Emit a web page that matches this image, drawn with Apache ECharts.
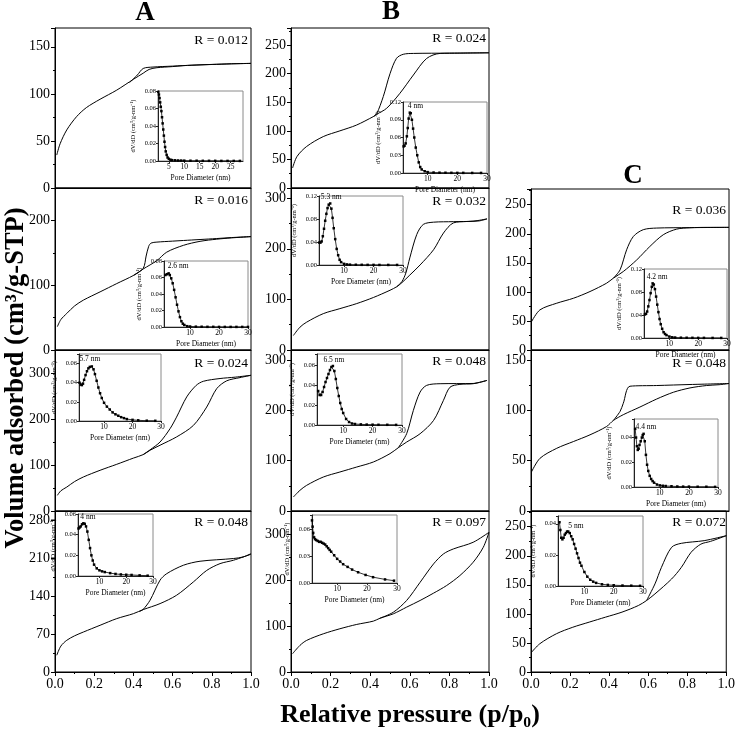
<!DOCTYPE html>
<html><head><meta charset="utf-8">
<script src="https://cdn.jsdelivr.net/npm/echarts@6/dist/echarts.min.js"></script>
<style>html,body{margin:0;padding:0;background:#fff}#c{width:738px;height:732px}</style>
</head><body><div id="c"></div>
<script>
const FONT = "'Liberation Serif', 'Times New Roman', serif";

// ---------- Isotherms: relative pressure (p/p0) and volume adsorbed (cm3/g STP) ----------
const A1_adsP = [0.009,0.026,0.06,0.11,0.16,0.23,0.315,0.40,0.45,0.48,0.52,0.6,0.655,0.74,0.825,0.9,1.0];
const A1_adsV = [35,47,61.7,75.8,85.4,94.3,104,115.5,122,126,127.8,129,130,130.8,131.4,132,132.4];
const A1_desP = [0.38,0.42,0.45,0.5,0.6,0.7,0.8,0.9,1.0];
const A1_desV = [112,120,127,128.5,129.5,130.5,131.3,131.9,132.4];

const A2_adsP = [0.012,0.03,0.06,0.1,0.145,0.23,0.315,0.40,0.45,0.52,0.57,0.655,0.74,0.825,0.9,1.0];
const A2_adsV = [36,47,56.4,68,77,89.7,102.5,115,125,138,151,161.5,167.7,171,173,175];
const A2_desP = [0.40,0.45,0.465,0.478,0.49,0.52,0.6,0.655,0.74,0.825,0.9,1.0];
const A2_desV = [115,126,145,160,165,166.5,168,169,170.5,172,173.5,175];

const A3_adsP = [0.012,0.03,0.06,0.1,0.145,0.23,0.315,0.40,0.45,0.485,0.536,0.62,0.706,0.774,0.825,0.876,0.944,1.0];
const A3_adsV = [34,44,52,64,74,88.5,101.5,115,122.6,132,143,161,186,226,266,283,290,295];
const A3_desP = [0.45,0.485,0.536,0.587,0.62,0.672,0.72,0.757,0.842,0.92,1.0];
const A3_desV = [122.6,133,150,179,204,248,273,282,288,291,295];

const A4_adsP = [0.009,0.03,0.06,0.1,0.145,0.23,0.315,0.40,0.45,0.536,0.62,0.706,0.774,0.842,0.91,1.0];
const A4_adsV = [31,48,58.7,67,74,86.5,98.8,108,115.5,126.6,142,166.7,188,200.6,206.8,218];
const A4_desP = [0.43,0.45,0.485,0.536,0.57,0.655,0.74,0.91,0.96,1.0];
const A4_desV = [112,116,132.8,170,182,197.6,205,210,213,219];

const B1_adsP = [0.008,0.03,0.079,0.163,0.247,0.33,0.416,0.433,0.483,0.55,0.618,0.685,0.753,0.85,1.0];
const B1_adsV = [35,55,72.7,90,100,110,125,129,139.5,165.7,197.7,226.7,235.5,236,236.6];
const B1_desP = [0.416,0.433,0.466,0.5,0.533,0.567,0.618,0.8,1.0];
const B1_desV = [125,130,160,200,227,234,235.5,236,236.6];

const B2_adsP = [0.012,0.045,0.079,0.163,0.247,0.332,0.416,0.5,0.534,0.56,0.6,0.652,0.72,0.77,0.82,0.887,0.95,0.99];
const B2_adsV = [28.6,45,55,71.8,81.7,91.7,103.7,118,125,133,148,168,198,231,251,253.8,255,259];
const B2_desP = [0.534,0.56,0.58,0.6,0.635,0.668,0.72,0.82,0.92,0.99];
const B2_desV = [125,135,152,182,228,248,252.5,253.5,254.5,259];

const B3_adsP = [0.012,0.045,0.079,0.163,0.247,0.332,0.416,0.5,0.542,0.584,0.652,0.72,0.77,0.803,0.853,0.92,0.99];
const B3_adsV = [27.8,41,51,67.5,77.5,87.4,97.4,114,125.8,137,153.6,180,220,246,251.7,253,259.6];
const B3_desP = [0.542,0.584,0.618,0.652,0.685,0.753,0.92,0.99];
const B3_desV = [125.8,153.6,200,236.4,249.7,253,253.5,259.6];

const B4_adsP = [0.008,0.045,0.079,0.163,0.247,0.332,0.416,0.45,0.517,0.584,0.652,0.72,0.786,0.853,0.92,0.971,1.0];
const B4_adsV = [39.8,57.8,68.7,83,94,103.4,110.6,117,126.5,141,155.5,171.4,188,209.7,238.6,271,303.7];
const B4_desP = [0.45,0.517,0.584,0.652,0.72,0.77,0.82,0.92,1.0];
const B4_desV = [117,130,155.5,195,235,256.7,267.5,282,303.7];

const C1_adsP = [0.003,0.045,0.13,0.214,0.298,0.382,0.416,0.466,0.534,0.6,0.668,0.736,0.803,0.9,1.0];
const C1_adsV = [48.9,69,80.5,89,100.6,115,123.6,135,155,178,198.3,208,210.3,211,211];
const C1_desP = [0.416,0.45,0.483,0.517,0.567,0.635,0.8,1.0];
const C1_desV = [123.6,138,172.4,195.4,207,209.8,210.5,211];

const C2_adsP = [0.003,0.045,0.13,0.214,0.298,0.382,0.416,0.466,0.55,0.635,0.719,0.803,0.887,0.95,1.0];
const C2_adsV = [39,52.3,62.3,69,75.7,84,90,95.7,103.3,111.3,118,122.3,124.7,125.5,126.7];
const C2_desP = [0.416,0.45,0.466,0.5,0.635,0.803,1.0];
const C2_desV = [90,99,107,124,124.7,125.7,126.7];

const C3_adsP = [0.003,0.045,0.13,0.214,0.298,0.382,0.466,0.55,0.592,0.635,0.72,0.77,0.82,0.87,0.92,1.0];
const C3_adsV = [34,48.6,65.8,77,85.8,94.4,103,114.4,123,134.4,160,180,206,220,224.8,234.5];
const C3_desP = [0.592,0.635,0.668,0.72,0.77,0.887,1.0];
const C3_desV = [123,151.6,180,214.5,221.4,226,234.5];

// ---------- Pore size distributions: pore diameter (nm) and dV/dD ----------
const A1_poreD = [1.6,1.8,2.0,2.2,2.4,2.6,2.8,3.0,3.2,3.4,3.6,3.8,4.0,4.3,4.6,5.0,5.5,6,7,8,9,10,12,14,16,18,20,22,24,26,28];
const A1_dVdD = [0.079,0.076,0.072,0.067,0.062,0.057,0.050,0.043,0.036,0.029,0.022,0.016,0.011,0.007,0.004,0.0025,0.0015,0.001,0.0008,0.0006,0.0005,0.0004,0.0003,0.0003,0.0002,0.0002,0.0002,0.0001,0.0001,0.0001,0.0001];

const A2_poreD = [1.5,2.0,2.6,3.0,3.5,4.0,4.5,5.0,5.5,6.0,6.5,7.0,7.5,8,9,10,12,14,16,18,20,22,24,26,28,30];
const A2_dVdD = [0.063,0.064,0.065,0.063,0.059,0.053,0.045,0.036,0.027,0.019,0.012,0.007,0.004,0.0025,0.001,0.0006,0.0004,0.0003,0.0002,0.0002,0.0001,0.0001,0.0001,0.0001,0.0001,0.0001];

const A3_poreD = [1.4,1.8,2.2,2.6,3.0,3.5,4.0,4.5,5.0,5.7,6.3,6.8,7.4,8.0,8.6,9.2,10,11,12,13,14,15,16,17,18,20,22,25,28];
const A3_dVdD = [0.040,0.038,0.0375,0.039,0.043,0.048,0.052,0.055,0.0565,0.057,0.054,0.049,0.042,0.035,0.029,0.024,0.019,0.015,0.012,0.009,0.007,0.0055,0.004,0.003,0.002,0.0012,0.0007,0.0003,0.0002];

const A4_poreD = [2.2,2.6,3.0,3.5,4.0,4.5,5.0,5.5,6.0,6.5,7.0,7.5,8.0,9.0,10,11,12,14,16,18,20,22,25,28];
const A4_dVdD = [0.046,0.047,0.048,0.050,0.051,0.0505,0.048,0.043,0.035,0.027,0.020,0.015,0.011,0.0074,0.0055,0.0045,0.0038,0.0028,0.002,0.0015,0.0012,0.001,0.0006,0.0003];

const B1_poreD = [1.9,2.2,2.6,3.0,3.3,3.6,4.0,4.3,4.7,5.1,5.5,6.0,6.5,7.0,7.5,8.0,9,10,12,14,16,18,20,22,25,28];
const B1_dVdD = [0.045,0.046,0.050,0.062,0.076,0.092,0.102,0.101,0.090,0.075,0.060,0.043,0.030,0.018,0.010,0.006,0.003,0.0015,0.0008,0.0005,0.0004,0.0003,0.0002,0.0002,0.0001,0.0001];

const B2_poreD = [1.6,2.0,2.4,2.8,3.2,3.6,4.0,4.4,4.8,5.3,5.7,6.1,6.5,7.0,7.5,8.0,8.5,9.0,10,11,12,14,16,18,20,22,25,28];
const B2_dVdD = [0.039,0.039,0.041,0.050,0.063,0.077,0.089,0.099,0.105,0.107,0.098,0.082,0.064,0.045,0.028,0.017,0.009,0.005,0.002,0.001,0.0006,0.0004,0.0003,0.0002,0.0002,0.0001,0.0001,0.0001];

const B3_poreD = [1.5,2.0,2.5,3.0,3.5,4.0,4.5,5.0,5.5,6.0,6.5,7.0,7.5,8.0,8.5,9.0,9.5,10,11,12,13,14,16,18,20,22,25,28];
const B3_dVdD = [0.034,0.030,0.030,0.033,0.038,0.043,0.047,0.051,0.055,0.058,0.059,0.054,0.046,0.037,0.029,0.022,0.016,0.012,0.006,0.003,0.0015,0.001,0.0006,0.0004,0.0003,0.0002,0.0002,0.0001];

const B4_poreD = [1.6,1.8,2.0,2.3,2.6,3.0,3.5,4.0,4.5,5.0,5.5,6.0,6.5,7.0,7.5,8.0,9.0,10,11,12,13.5,15,17,19.5,22,26,29];
const B4_dVdD = [0.070,0.063,0.056,0.051,0.049,0.048,0.047,0.046,0.046,0.045,0.044,0.043,0.041,0.039,0.037,0.035,0.031,0.027,0.024,0.021,0.018,0.015,0.012,0.009,0.0065,0.004,0.0026];

const C1_poreD = [1.5,1.9,2.3,2.7,3.1,3.5,3.9,4.2,4.6,5.0,5.4,5.8,6.2,6.6,7.0,7.5,8.0,8.5,9.0,10,11,12,14,16,18,20,22,25,28];
const C1_dVdD = [0.041,0.042,0.046,0.055,0.066,0.078,0.089,0.095,0.093,0.085,0.072,0.058,0.045,0.033,0.024,0.016,0.010,0.007,0.005,0.0025,0.0012,0.0008,0.0005,0.0004,0.0003,0.0002,0.0002,0.0001,0.0001];

const C2_poreD = [1.5,1.8,2.1,2.4,2.7,3.0,3.4,3.8,4.1,4.4,4.8,5.2,5.6,6.0,6.5,7.0,7.5,8.0,9.0,10,11,12,14,16,18,20,23,26,29];
const C2_dVdD = [0.047,0.040,0.033,0.030,0.031,0.034,0.037,0.040,0.042,0.043,0.037,0.026,0.018,0.013,0.009,0.0065,0.0048,0.0035,0.002,0.0013,0.001,0.0008,0.0006,0.0004,0.0003,0.0003,0.0002,0.0002,0.0001];

const C3_poreD = [1.5,1.8,2.1,2.5,2.9,3.3,3.7,4.1,4.5,5.0,5.5,6.0,6.5,7.0,7.5,8.0,8.5,9.0,10,11,12,13,14,16,18,20,23,26,29];
const C3_dVdD = [0.041,0.036,0.031,0.030,0.031,0.033,0.034,0.035,0.035,0.034,0.032,0.030,0.027,0.024,0.021,0.018,0.015,0.013,0.009,0.006,0.004,0.0028,0.002,0.0011,0.0007,0.0005,0.0003,0.0002,0.0001];

// ---------- Labels ----------
const panelNames = ['A1','A2','A3','A4','B1','B2','B3','B4','C1','C2','C3'];
const rLabels = ['R = 0.012','R = 0.016','R = 0.024','R = 0.048','R = 0.024','R = 0.032','R = 0.048','R = 0.097','R = 0.036','R = 0.048','R = 0.072'];
const peakLabels = [null,'2.6 nm','5.7 nm','4 nm','4 nm','5.3 nm','6.5 nm',null,'4.2 nm','4.4 nm','5 nm'];
const peakAt = [null,2.6,5.7,4.0,4.0,5.3,6.5,null,4.2,4.4,4.5];
const xTickLabels = [0,0.2,0.4,0.6,0.8,1.0];

// ---------- Layout & scales ----------
const layout = {
  A1:{box:[55,28,196,160], inset:[158,91,85,70], yMax:170, yInt:50, rDy:12,
      ix:[1.5,29], ixt:[5,10,15,20,25], iyMax:0.08, iyInt:0.02},
  A2:{box:[55,188,196,162], inset:[164,261,84,66], yMax:250, yInt:100, rDy:12,
      ix:[1,30], ixt:[10,20,30], iyMax:0.08, iyInt:0.02, pAlign:'left', pOff:[-1,0]},
  A3:{box:[55,350,196,161], inset:[79,354,82,67], yMax:350, yInt:100, rDy:13,
      ix:[1.2,30], ixt:[10,20,30], iyMax:0.07, iyInt:0.02, pAlign:'center', pOff:[-2,0]},
  A4:{box:[55,511,196,161], inset:[78,514,75,62], yMax:298, yInt:70, rDy:11,
      ix:[2,30], ixt:[10,20,30], iyMax:0.06, iyInt:0.02, pAlign:'left', pOff:[-3,1]},
  B1:{box:[291,28,198,160], inset:[403,102,84,71], yMax:280, yInt:50, rDy:10,
      ix:[1.7,30], ixt:[10,20,30], iyMax:0.12, iyInt:0.03, pAlign:'left', pOff:[-2,1]},
  B2:{box:[291,188,198,162], inset:[319,196,84,69], yMax:320, yInt:100, rDy:13,
      ix:[1.5,30], ixt:[10,20,30], iyMax:0.12, iyInt:0.04, pAlign:'center', pOff:[1,1]},
  B3:{box:[291,350,198,161], inset:[317,354,85,71], yMax:320, yInt:100, rDy:11,
      ix:[1.1,30], ixt:[10,20,30], iyMax:0.071, iyInt:0.02, pAlign:'center', pOff:[1,1]},
  B4:{box:[291,511,198,161], inset:[312,515,85,68], yMax:350, yInt:100, rDy:11,
      ix:[1.6,30], ixt:[10,20,30], iyMax:0.076, iyInt:0.03},
  C1:{box:[531,189,198,161], inset:[644,269,83,69], yMax:277, yInt:50, rDy:21,
      ix:[1.2,30], ixt:[10,20,30], iyMax:0.12, iyInt:0.04, pAlign:'left', pOff:[-6,1]},
  C2:{box:[531,350,198,161], inset:[634,419,84,68], yMax:160, yInt:50, rDy:13,
      ix:[1.1,30], ixt:[10,20,30], iyMax:0.055, iyInt:0.02, pAlign:'left', pOff:[-8,0]},
  C3:{box:[531,511,198,161], inset:[558,516,85,70], yMax:277, yInt:50, rDy:11,
      ix:[1,30], ixt:[10,20,30], iyMax:0.045, iyInt:0.02, pAlign:'left', pOff:[0,2]}
};
const bottomRow = {A4:true, B4:true, C3:true};

const dataMap = {
  A1:[A1_adsP,A1_adsV,A1_desP,A1_desV,A1_poreD,A1_dVdD],
  A2:[A2_adsP,A2_adsV,A2_desP,A2_desV,A2_poreD,A2_dVdD],
  A3:[A3_adsP,A3_adsV,A3_desP,A3_desV,A3_poreD,A3_dVdD],
  A4:[A4_adsP,A4_adsV,A4_desP,A4_desV,A4_poreD,A4_dVdD],
  B1:[B1_adsP,B1_adsV,B1_desP,B1_desV,B1_poreD,B1_dVdD],
  B2:[B2_adsP,B2_adsV,B2_desP,B2_desV,B2_poreD,B2_dVdD],
  B3:[B3_adsP,B3_adsV,B3_desP,B3_desV,B3_poreD,B3_dVdD],
  B4:[B4_adsP,B4_adsV,B4_desP,B4_desV,B4_poreD,B4_dVdD],
  C1:[C1_adsP,C1_adsV,C1_desP,C1_desV,C1_poreD,C1_dVdD],
  C2:[C2_adsP,C2_adsV,C2_desP,C2_desV,C2_poreD,C2_dVdD],
  C3:[C3_adsP,C3_adsV,C3_desP,C3_desV,C3_poreD,C3_dVdD]
};

const isMult = (v, s) => Math.abs(v / s - Math.round(v / s)) < 1e-6;
const pairs = (xs, ys) => xs.map((x, i) => [x, ys[i]]);
const BLACK = '#000';

const grid = [], xAxis = [], yAxis = [], series = [], graphic = [];

panelNames.forEach((k, pi) => {
  const L = layout[k];
  const [adsP, adsV, desP, desV, poreD, dVdD] = dataMap[k];
  const isBottom = !!bottomRow[k];

  // ---- main panel ----
  let gi = grid.length;
  grid.push({left:L.box[0], top:L.box[1], width:L.box[2], height:L.box[3],
    show:true, borderColor:BLACK, borderWidth:1, backgroundColor:'transparent'});
  xAxis.push({gridIndex:gi, type:'value', min:0, max:1, interval:0.2,
    axisLine:{show:true, onZero:false, lineStyle:{color:BLACK, width:1}},
    axisTick:{show:isBottom, length:4, lineStyle:{color:BLACK}},
    minorTick:{show:isBottom, splitNumber:2, length:2, lineStyle:{color:BLACK}},
    axisLabel:{show:isBottom, margin:5, fontFamily:FONT, fontSize:14, color:BLACK,
      formatter: v => xTickLabels.some(t => Math.abs(t - v) < 1e-9) ? v.toFixed(1) : ''},
    splitLine:{show:false}, minorSplitLine:{show:false}});
  yAxis.push({gridIndex:gi, type:'value', min:0, max:L.yMax, interval:L.yInt,
    axisLine:{show:true, onZero:false, lineStyle:{color:BLACK, width:1}},
    axisTick:{show:true, length:4, lineStyle:{color:BLACK}},
    minorTick:{show:true, splitNumber:2, length:2, lineStyle:{color:BLACK}},
    axisLabel:{margin:5, fontFamily:FONT, fontSize:14, color:BLACK,
      formatter: v => isMult(v, L.yInt) ? String(Math.round(v)) : ''},
    splitLine:{show:false}, minorSplitLine:{show:false}});
  series.push({type:'line', xAxisIndex:gi, yAxisIndex:gi, data:pairs(adsP, adsV),
    smooth:0.3, symbol:'none', lineStyle:{color:BLACK, width:1}, z:2});
  series.push({type:'line', xAxisIndex:gi, yAxisIndex:gi, data:pairs(desP, desV),
    smooth:0.3, symbol:'none', lineStyle:{color:BLACK, width:1}, z:2});

  graphic.push({type:'text', x:L.box[0] + L.box[2] - 3, y:L.box[1] + L.rDy,
    style:{text:rLabels[pi], fontFamily:FONT, fontSize:13.5, fill:BLACK, align:'right', verticalAlign:'middle'}});

  // ---- inset ----
  gi = grid.length;
  grid.push({left:L.inset[0], top:L.inset[1], width:L.inset[2], height:L.inset[3],
    show:true, borderColor:'#8a8a8a', borderWidth:1, backgroundColor:'#fff', z:3});
  xAxis.push({gridIndex:gi, type:'value', min:L.ix[0], max:L.ix[1], z:4,
    axisLine:{show:true, onZero:false, lineStyle:{color:'#222', width:1}},
    axisTick:{show:true, length:2, customValues:L.ixt, lineStyle:{color:'#222'}},
    axisLabel:{margin:2, fontFamily:FONT, fontSize:7.5, color:BLACK, customValues:L.ixt},
    splitLine:{show:false},
    name:'Pore Diameter (nm)', nameLocation:'middle', nameGap:13,
    nameTextStyle:{fontFamily:FONT, fontSize:7.5, color:BLACK}});
  yAxis.push({gridIndex:gi, type:'value', min:0, max:L.iyMax, interval:L.iyInt, z:4,
    axisLine:{show:true, onZero:false, lineStyle:{color:'#222', width:1}},
    axisTick:{show:true, length:2, lineStyle:{color:'#222'}},
    axisLabel:{margin:2, fontFamily:FONT, fontSize:6.5, color:BLACK,
      formatter: v => isMult(v, L.iyInt) ? v.toFixed(2) : ''},
    splitLine:{show:false},
    name:'dV/dD (cm³/g-nm⁻¹)', nameLocation:'middle', nameGap:21,
    nameTextStyle:{fontFamily:FONT, fontSize:6.5, color:BLACK}});

  let peakIdx = -1;
  if (peakAt[pi] !== null) {
    let best = 1e9;
    poreD.forEach((d, i) => { const e = Math.abs(d - peakAt[pi]); if (e < best) { best = e; peakIdx = i; } });
  }
  const psd = poreD.map((d, i) => {
    if (i === peakIdx) {
      return {value:[d, dVdD[i]], label:{show:true, formatter:peakLabels[pi], position:'top',
        align:L.pAlign || 'center', offset:L.pOff || [0,0],
        distance:2, fontFamily:FONT, fontSize:7.5, color:BLACK}};
    }
    return [d, dVdD[i]];
  });
  series.push({type:'line', xAxisIndex:gi, yAxisIndex:gi, data:psd, z:5,
    symbol:'rect', symbolSize:2.5, itemStyle:{color:BLACK}, lineStyle:{color:BLACK, width:0.8},
    clip:true});
});

// column letters and axis titles
graphic.push({type:'text', x:145, y:13, style:{text:'A', fontFamily:FONT, fontWeight:'bold', fontSize:27, fill:BLACK, align:'center', verticalAlign:'middle'}});
graphic.push({type:'text', x:391, y:12, style:{text:'B', fontFamily:FONT, fontWeight:'bold', fontSize:27, fill:BLACK, align:'center', verticalAlign:'middle'}});
graphic.push({type:'text', x:633, y:176, style:{text:'C', fontFamily:FONT, fontWeight:'bold', fontSize:27, fill:BLACK, align:'center', verticalAlign:'middle'}});
graphic.push({type:'text', x:16, y:378, rotation:Math.PI/2,
  style:{text:'Volume adsorbed (cm³/g-STP)', fontFamily:FONT, fontWeight:'bold', fontSize:26.5, fill:BLACK, align:'center', verticalAlign:'middle'}});
graphic.push({type:'text', x:410, y:715,
  style:{text:'Relative pressure (p/p₀)', fontFamily:FONT, fontWeight:'bold', fontSize:26, fill:BLACK, align:'center', verticalAlign:'middle'}});

const chart = echarts.init(document.getElementById('c'), null, {renderer:'canvas'});
chart.setOption({animation:false, backgroundColor:'#fff', grid, xAxis, yAxis, series, graphic});
</script>
</body></html>
